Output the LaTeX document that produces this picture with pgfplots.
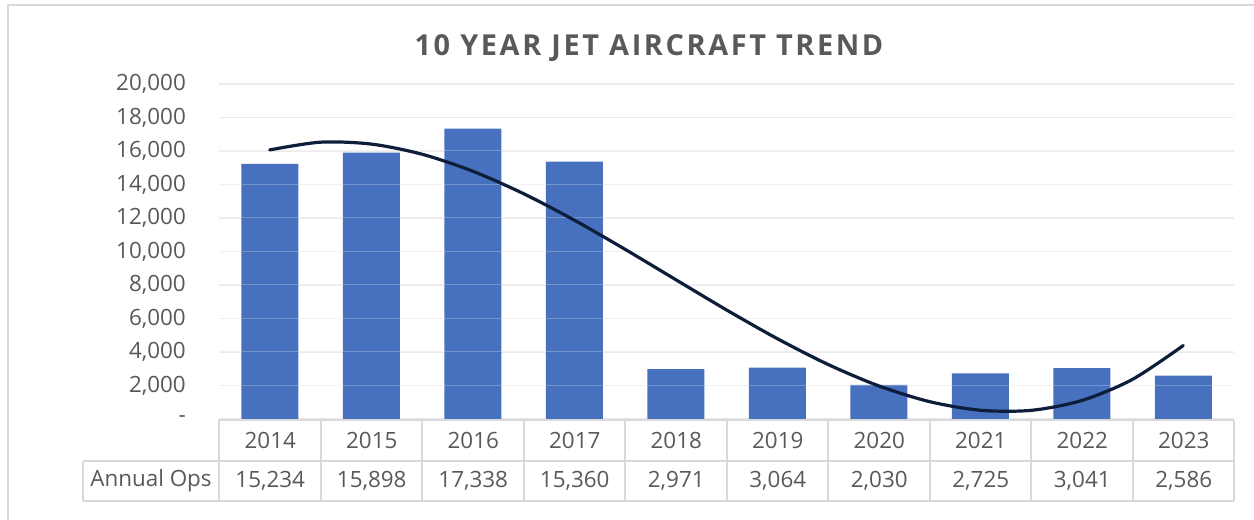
\documentclass[border=0pt]{standalone}
\usepackage{pgfplots}
\pgfplotsset{compat=1.18}
\usepackage{fontspec}
\setmainfont{Open Sans}
\newfontfamily\titlefont[LetterSpace=9]{Open Sans}
\definecolor{barblue}{HTML}{4771BF}
\definecolor{txt}{HTML}{595959}
\definecolor{gridc}{HTML}{EBEBEB}
\definecolor{tbl}{HTML}{D9D9D9}
\definecolor{trend}{HTML}{0E1E3A}
\newcommand\fs{\fontsize{22.5}{27}\selectfont}
\begin{document}
\begin{tikzpicture}[x=1bp,y=1bp]
\path[use as bounding box] (0,0) rectangle (1254,520);
\draw[tbl, line width=2bp] (8,-30) -- (8,515) -- (1290,515);
\begin{axis}[
  at={(219bp,101bp)}, anchor=south west,
  scale only axis, width=1015bp, height=335bp,
  xmin=-0.5, xmax=9.5, ymin=0, ymax=20000,
  axis line style={draw=none},
  major tick length=0pt,
  xtick=\empty,
  scaled y ticks=false,
  ytick={0,2000,4000,6000,8000,10000,12000,14000,16000,18000,20000},
  yticklabels={{-\hspace{14bp}},{2,000},{4,000},{6,000},{8,000},{10,000},{12,000},{14,000},{16,000},{18,000},{20,000}},
  yticklabel style={anchor=east, inner sep=0pt, xshift=-33bp, font=\fs, text=txt},
  ymajorgrids,
  grid style={gridc, line width=1.5bp},
]
\addplot[ybar, bar width=57bp, fill=barblue, draw=none] coordinates {
  (0,15234) (1,15898) (2,17338) (3,15360) (4,2971)
  (5,3064) (6,2030) (7,2725) (8,3041) (9,2586)};
\foreach \g in {2000,4000,6000,8000,10000,12000,14000,16000} {
  \edef\tmp{\noexpand\draw[white, opacity=0.25, line width=1bp] (axis cs:-0.5,\g) -- (axis cs:9.5,\g);}\tmp
}
\addplot[trend, line width=3.2bp, smooth, no marks, line cap=round] coordinates {
  (0,16064) (0.5,16526) (1,16412) (1.5,15807) (2,14792) (2.5,13453)
  (3,11872) (3.5,10132) (4,8318) (4.5,6511) (5,4797) (5.5,3257)
  (6,1976) (6.5,1037) (7,523) (7.5,516) (8,1105) (8.5,2367) (9,4388)};
\end{axis}
\begin{scope}[shift={(0,520)}, yscale=-1]
  \draw[tbl, line width=2bp] (219,420) -- (1234,420);
  \draw[tbl, line width=2bp] (83,461) -- (1234,461);
  \draw[tbl, line width=2bp] (83,501) -- (1234,501);
  \draw[tbl, line width=2bp] (83,461) -- (83,501);
  \foreach \k in {0,...,10} {
    \draw[tbl, line width=2bp] (219+101.5*\k,420) -- (219+101.5*\k,501);
  }
  \foreach \v [count=\i from 0] in {2014,2015,2016,2017,2018,2019,2020,2021,2022,2023} {
    \node[text=txt, font=\fs, inner sep=0pt] at (270.25+101.5*\i,440.5) {\v};
  }
  \foreach \v [count=\i from 0] in {{15,234},{15,898},{17,338},{15,360},{2,971},{3,064},{2,030},{2,725},{3,041},{2,586}} {
    \node[text=txt, font=\fs, inner sep=0pt] at (270.25+101.5*\i,481) {\v};
  }
  \node[text=txt, font=\fs, inner sep=0pt] at (151,481) {Annual Ops};
  \node[text=txt, font=\titlefont\fontsize{29}{34}\selectfont\bfseries, inner sep=0pt] at (649,48) {10 YEAR JET AIRCRAFT TREND};
\end{scope}
\end{tikzpicture}
\end{document}
